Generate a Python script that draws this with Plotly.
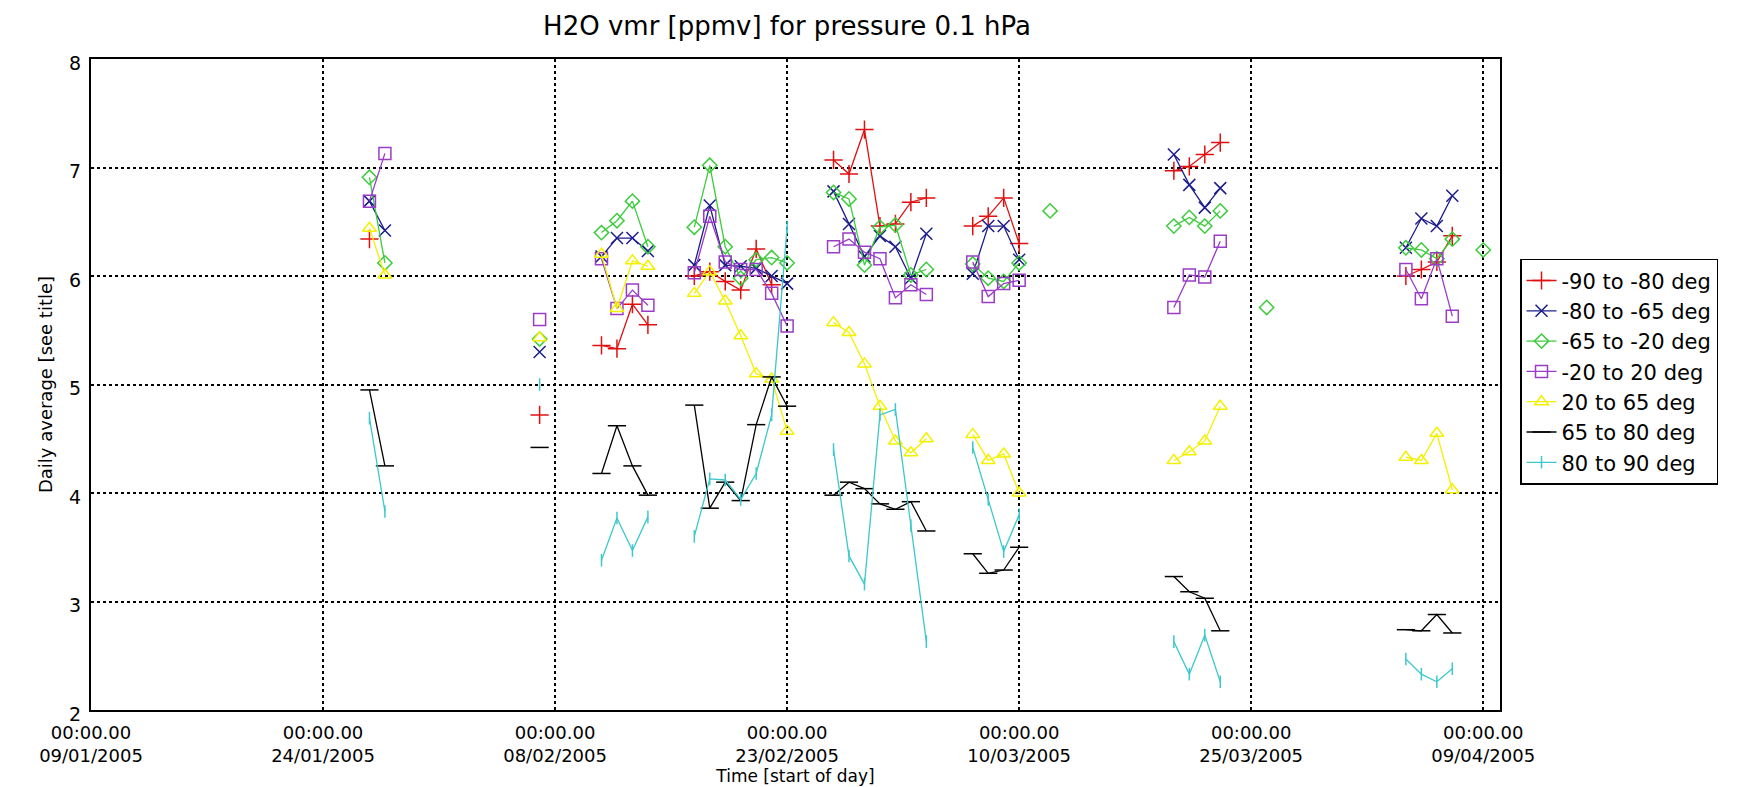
import plotly.graph_objects as go
from datetime import datetime, timedelta

# ---- data (daily averages) ----
days = ["2005-01-27", "2005-01-28", "2005-02-07", "2005-02-11", "2005-02-12", "2005-02-13", "2005-02-14",
        "2005-02-17", "2005-02-18", "2005-02-19", "2005-02-20", "2005-02-21", "2005-02-22", "2005-02-23",
        "2005-02-26", "2005-02-27", "2005-02-28", "2005-03-01", "2005-03-02", "2005-03-03", "2005-03-04",
        "2005-03-07", "2005-03-08", "2005-03-09", "2005-03-10", "2005-03-12",
        "2005-03-20", "2005-03-21", "2005-03-22", "2005-03-23", "2005-03-26",
        "2005-04-04", "2005-04-05", "2005-04-06", "2005-04-07", "2005-04-09"]

s_m90_m80 = [6.34, None, 4.72, 5.36, 5.33, 5.74, 5.55,
             6.00, 6.04, 5.95, 5.87, 6.25, 5.92, None,
             7.07, 6.94, 7.35, 6.46, 6.48, 6.68, 6.72,
             6.46, 6.55, 6.72, 6.30, None,
             6.97, 7.01, 7.12, 7.23, None,
             6.00, 6.06, 6.13, 6.37, None]
s_m80_m65 = [6.69, 6.42, 5.30, 6.18, 6.35, 6.35, 6.23,
             6.10, 6.65, 6.10, 6.09, 6.07, 6.00, 5.93,
             6.78, 6.48, 6.18, 6.37, 6.27, 5.98, 6.39,
             6.02, 6.46, 6.46, 6.15, None,
             7.12, 6.84, 6.63, 6.81, None,
             6.26, 6.53, 6.46, 6.74, None]
s_m65_m20 = [6.91, 6.12, 5.42, 6.40, 6.51, 6.69, 6.27,
             6.45, 7.02, 6.27, 5.98, 6.15, 6.17, 6.12,
             6.77, 6.71, 6.10, 6.45, 6.47, 6.01, 6.06,
             6.11, 5.98, 5.95, 6.12, 6.60,
             6.46, 6.54, 6.46, 6.60, 5.71,
             6.26, 6.24, 6.16, 6.34, 6.24]
s_m20_20 = [6.69, 7.13, 5.60, 6.16, 5.70, 5.87, 5.73,
            6.03, 6.55, 6.13, 6.06, 6.06, 5.84, 5.54,
            6.27, 6.34, 6.22, 6.16, 5.80, 5.92, 5.83,
            6.13, 5.81, 5.93, 5.96, None,
            5.71, 6.01, 5.99, 6.32, None,
            6.06, 5.79, 6.16, 5.63, None]
s_20_65 = [6.44, 6.01, 5.43, 6.20, 5.70, 6.14, 6.09,
           5.84, 6.04, 5.77, 5.45, 5.10, 5.05, 4.57,
           5.57, 5.48, 5.19, 4.80, 4.48, 4.37, 4.50,
           4.54, 4.30, 4.36, 4.00, None,
           4.30, 4.38, 4.48, 4.80, None,
           4.33, 4.30, 4.55, 4.03, None]
s_65_80 = [4.95, 4.25, 4.42, 4.18, 4.62, 4.25, 3.98,
           4.81, 3.86, 4.10, 3.93, 4.63, 5.07, 4.80,
           3.98, 4.10, 4.04, 3.90, 3.85, 3.92, 3.65,
           3.44, 3.26, 3.29, 3.50, None,
           3.23, 3.09, 3.03, 2.73, None,
           2.74, 2.73, 2.88, 2.71, None]
s_80_90 = [4.69, 3.83, 5.00, 3.38, 3.77, 3.47, 3.78,
           3.60, 4.13, 4.12, 3.94, 4.18, 4.72, 6.45,
           4.40, 3.42, 3.16, 4.72, 4.77, 3.70, 2.63,
           4.42, 3.94, 3.46, 3.80, None,
           2.63, 2.33, 2.69, 2.26, None,
           2.47, 2.33, 2.26, 2.38, None]

series_names = ["-90 to -80 deg", "-80 to -65 deg", "-65 to -20 deg", "-20 to 20 deg",
                "20 to 65 deg", "65 to 80 deg", "80 to 90 deg"]
series_values = [s_m90_m80, s_m80_m65, s_m65_m20, s_m20_20, s_20_65, s_65_80, s_80_90]

tick_dates = ["2005-01-09", "2005-01-24", "2005-02-08", "2005-02-23",
              "2005-03-10", "2005-03-25", "2005-04-09"]
tick_labels = ["00:00.00<br>09/01/2005", "00:00.00<br>24/01/2005", "00:00.00<br>08/02/2005",
               "00:00.00<br>23/02/2005", "00:00.00<br>10/03/2005", "00:00.00<br>25/03/2005",
               "00:00.00<br>09/04/2005"]

# ---- styles ----
colors = ["#e01010", "#1c1c8c", "#3ccc3c", "#9a3cc8", "#f4f000", "#000000", "#3cc8cc"]
symbols = ["cross-thin", "x-thin", "diamond-open", "square-open", "triangle-up-open", "line-ew", "line-ns"]
sizes = [13, 12, 11, 12, 12, 13, 9]


def with_breaks(dates, vals):
    xs, ys = [], []
    prev = None
    for d, v in zip(dates, vals):
        cur = datetime.strptime(d, "%Y-%m-%d")
        if prev is not None and (cur - prev) > timedelta(days=1):
            xs.append(None)
            ys.append(None)
        xs.append(d)
        ys.append(v)
        prev = cur
    return xs, ys


fig = go.Figure()
for name, vals, c, sym, sz in zip(series_names, series_values, colors, symbols, sizes):
    xs, ys = with_breaks(days, vals)
    fig.add_trace(go.Scatter(
        x=xs, y=ys, name=name, mode="lines+markers", connectgaps=False,
        line=dict(color=c, width=1.3),
        marker=dict(symbol=sym, size=sz, color=c, line=dict(color=c, width=1.5)),
    ))

font_family = "DejaVu Sans"
fig.update_layout(
    width=1737, height=787,
    paper_bgcolor="white", plot_bgcolor="white",
    margin=dict(l=83, r=245, t=51, b=85),
    font=dict(family=font_family, color="black", size=16),
    title=dict(text="H2O vmr [ppmv] for pressure 0.1 hPa", x=0.4485, xanchor="center",
               y=0.977, yanchor="middle", font=dict(size=26)),
    showlegend=True,
    legend=dict(x=1.0142, y=0.693, xanchor="left", yanchor="top",
                bordercolor="black", borderwidth=1.5, bgcolor="white",
                font=dict(size=21), itemwidth=30, tracegroupgap=0),
    xaxis=dict(
        type="date", range=["2005-01-09", "2005-04-10 02:00"],
        tickmode="array", tickvals=tick_dates, ticktext=tick_labels,
        showgrid=True, gridcolor="black", gridwidth=1.5, griddash="3px,3px",
        showline=True, linecolor="black", linewidth=2, mirror=True,
        ticks="", zeroline=False, tickfont=dict(size=18), ticklabelstandoff=5,
        title=dict(text="Time [start of day]", standoff=0, font=dict(size=17)),
    ),
    yaxis=dict(
        range=[2, 8], tickmode="linear", tick0=2, dtick=1,
        showgrid=True, gridcolor="black", gridwidth=1.5, griddash="3px,3px",
        showline=True, linecolor="black", linewidth=2, mirror=True,
        ticks="", zeroline=False, tickfont=dict(size=19), ticklabelstandoff=4,
        ticklabelshift=4,
        title=dict(text="Daily average [see title]", standoff=12, font=dict(size=18)),
    ),
)

fig.write_html("out.html")
